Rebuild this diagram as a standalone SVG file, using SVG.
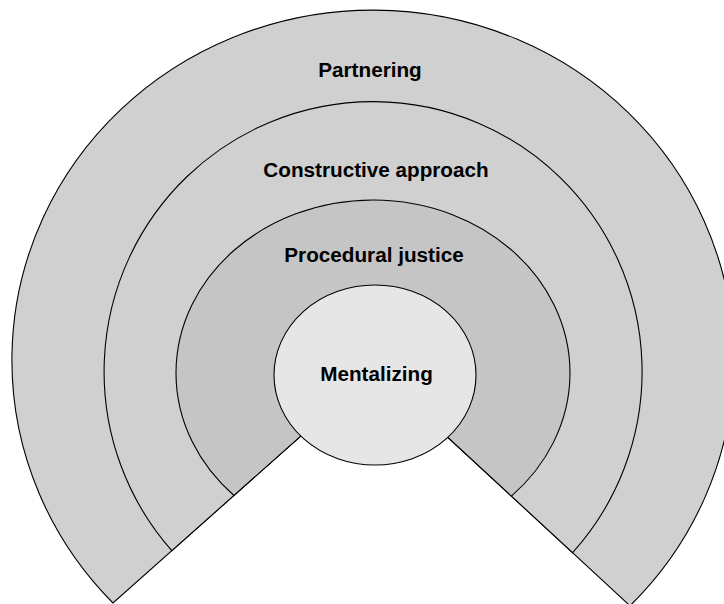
<svg xmlns="http://www.w3.org/2000/svg" width="724" height="604" viewBox="0 0 724 604">
<style>
.ring{stroke:#000;stroke-width:1.1;stroke-linejoin:miter}
.outer{fill:#D0D0D0}
.mid{fill:#D0D0D0}
.inner{fill:#C5C5C5}
.core{fill:#E6E6E6}
.lbl{font-family:"Liberation Sans",Arial,sans-serif;font-weight:bold;font-size:20.7px;fill:#000;text-anchor:middle}
</style>
<rect x="0" y="0" width="724" height="604" fill="#FFFFFF"/>
<g id="partnering">
<path class="ring outer" d="M375,370 L113,603 A361,350 0 1 1 630,605.8 Z"/>
<text class="lbl" x="370" y="77">Partnering</text>
</g>
<g id="constructive-approach">
<path class="ring mid" d="M375,370 L171.8,550.7 A269,270 0 1 1 572.6,552.7 Z"/>
<text class="lbl" x="376" y="177">Constructive approach</text>
</g>
<g id="procedural-justice">
<path class="ring inner" d="M375,370 L233.9,495.5 A197,173 0 1 1 511.4,496.1 Z"/>
<text class="lbl" x="374" y="262">Procedural justice</text>
</g>
<g id="mentalizing">
<ellipse class="ring core" cx="375" cy="375" rx="101" ry="90"/>
<text class="lbl" x="376.5" y="381">Mentalizing</text>
</g>
<g id="connectors"></g>
</svg>
